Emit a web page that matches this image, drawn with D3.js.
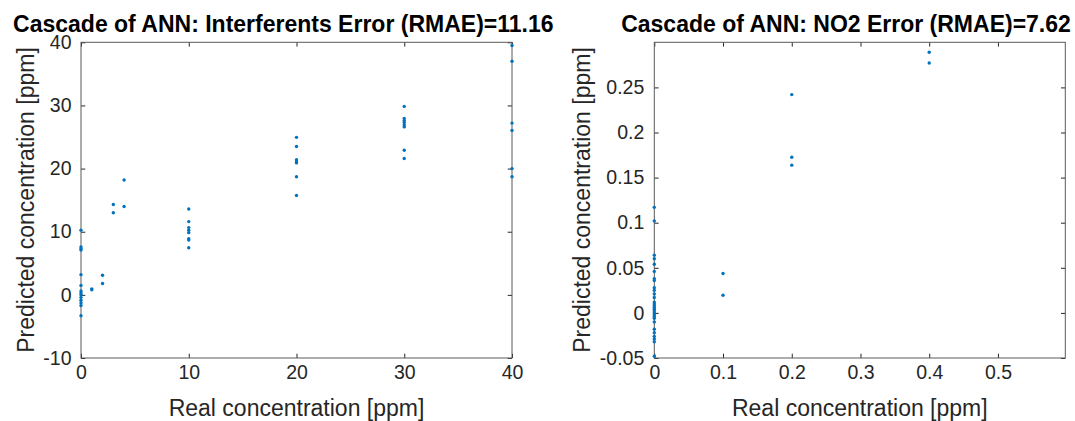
<!DOCTYPE html>
<html>
<head>
<meta charset="utf-8">
<script src="https://cdn.jsdelivr.net/npm/d3@7"></script>
<style>
  body { margin: 0; background: #fff; }
  svg { display: block; font-family: "Liberation Sans", Arial, Helvetica, sans-serif; }
  .tick text { fill: #262626; font-size: 19.5px; }
  .tick line { stroke: #262626; }
</style>
</head>
<body>
<svg id="chart" width="1075" height="421"></svg>
<script>
// interferents panel: real vs predicted [ppm]
const interfReal = [
  0, 0, 0, 0, 0, 0, 0, 0, 0, 0, 0, 0, 0, 0,
  1, 1,
  2, 2,
  3, 3,
  4, 4,
  10, 10, 10, 10, 10, 10, 10, 10,
  20, 20, 20, 20, 20, 20, 20,
  30, 30, 30, 30, 30, 30, 30, 30,
  40, 40, 40, 40, 40, 40
];
const interfPred = [
  10.25, 7.6, 7.3, 7.1, 3.2, 1.5, 0.6, 0.3, 0.0, -0.4, -0.85, -1.3, -1.7, -3.3,
  0.8, 0.95,
  3.1, 1.8,
  14.3, 13.0,
  18.2, 14.0,
  13.6, 11.6, 10.65, 10.25, 9.85, 8.9, 8.7, 7.45,
  24.95, 23.5, 21.4, 21.1, 20.9, 18.7, 15.75,
  29.85, 27.95, 27.6, 27.3, 26.9, 26.6, 22.9, 21.6,
  39.5, 37.0, 27.2, 26.05, 20.0, 18.7
];

// NO2 panel
const no2Real = [
  0, 0, 0, 0, 0, 0, 0, 0, 0, 0, 0, 0, 0, 0, 0, 0, 0, 0, 0, 0, 0, 0, 0, 0, 0, 0, 0, 0, 0,
  0.1, 0.1,
  0.2, 0.2, 0.2,
  0.4, 0.4
];
const no2Pred = [
  0.117, 0.102, 0.064, 0.060, 0.054, 0.046, 0.038, 0.036, 0.028, 0.025, 0.021, 0.017,
  0.012, 0.010, 0.008, 0.006, 0.004, 0.002, 0.0, -0.002, -0.004, -0.006, -0.010,
  -0.018, -0.022, -0.026, -0.029, -0.032, -0.048,
  0.0436, 0.0195,
  0.242, 0.1726, 0.1638,
  0.289, 0.277
];

const interfXTicks = [0, 10, 20, 30, 40];
const interfYTicks = [-10, 0, 10, 20, 30, 40];
const no2XTicks = [0, 0.1, 0.2, 0.3, 0.4, 0.5];
const no2YTicks = [-0.05, 0, 0.05, 0.1, 0.15, 0.2, 0.25];

const titles = [
  "Cascade of ANN: Interferents Error (RMAE)=11.16",
  "Cascade of ANN: NO2 Error (RMAE)=7.62"
];
const xLabel = "Real concentration [ppm]";
const yLabel = "Predicted concentration [ppm]";

const svg = d3.select("#chart");
const blue = "#0072BD";
const tickLen = 4.3;

function drawPanel(opts) {
  const x = d3.scaleLinear().domain(opts.xDomain).range([opts.left, opts.right]);
  const y = d3.scaleLinear().domain(opts.yDomain).range([358, 42.3]);
  const g = svg.append("g");

  const fmt = d => String(d);

  g.append("g")
    .attr("transform", `translate(0,${y.range()[0]})`)
    .call(d3.axisBottom(x).tickValues(opts.xTicks).tickFormat(fmt)
      .tickSizeInner(-tickLen).tickSizeOuter(0).tickPadding(7))
    .call(a => a.select(".domain").remove());
  g.append("g")
    .attr("transform", `translate(0,${y.range()[1]})`)
    .call(d3.axisTop(x).tickValues(opts.xTicks).tickFormat("")
      .tickSizeInner(-tickLen).tickSizeOuter(0))
    .call(a => a.select(".domain").remove());
  g.append("g")
    .attr("transform", `translate(${opts.left},0)`)
    .call(d3.axisLeft(y).tickValues(opts.yTicks).tickFormat(fmt)
      .tickSizeInner(-tickLen).tickSizeOuter(0).tickPadding(opts.yPad))
    .call(a => a.select(".domain").remove());
  g.append("g")
    .attr("transform", `translate(${opts.right},0)`)
    .call(d3.axisRight(y).tickValues(opts.yTicks).tickFormat("")
      .tickSizeInner(-tickLen).tickSizeOuter(0))
    .call(a => a.select(".domain").remove());

  g.append("rect")
    .attr("x", opts.left).attr("y", y.range()[1])
    .attr("width", opts.right - opts.left)
    .attr("height", y.range()[0] - y.range()[1])
    .attr("fill", "none").attr("stroke", "#5a5a5a").attr("stroke-width", 1);

  g.selectAll("circle.pt")
    .data(d3.zip(opts.xs, opts.ys))
    .join("circle")
    .attr("class", "pt")
    .attr("cx", d => x(d[0]))
    .attr("cy", d => y(d[1]))
    .attr("r", 1.7)
    .attr("fill", blue);

  g.append("text")
    .attr("x", opts.titleX).attr("y", 31.5)
    .attr("text-anchor", "middle")
    .attr("font-weight", "bold").attr("font-size", "23px")
    .attr("fill", "#000")
    .text(opts.title);

  g.append("text")
    .attr("x", (opts.left + opts.right) / 2).attr("y", 416)
    .attr("text-anchor", "middle")
    .attr("font-size", "23px").attr("fill", "#262626")
    .text(xLabel);

  g.append("text")
    .attr("transform", `translate(${opts.yLabelX},200) rotate(-90)`)
    .attr("text-anchor", "middle")
    .attr("font-size", "23px").attr("fill", "#262626")
    .text(yLabel);
}

drawPanel({
  left: 81, right: 512,
  xDomain: [0, 40], yDomain: [-10, 40],
  xTicks: interfXTicks, yTicks: interfYTicks,
  xs: interfReal, ys: interfPred,
  title: titles[0], titleX: 283.3, yLabelX: 33.5, yPad: 9.5
});

drawPanel({
  left: 654.3, right: 1065.3,
  xDomain: [0, 0.598], yDomain: [-0.05, 0.3],
  xTicks: no2XTicks, yTicks: no2YTicks,
  xs: no2Real, ys: no2Pred,
  title: titles[1], titleX: 846, yLabelX: 590, yPad: 10
});
</script>
</body>
</html>
